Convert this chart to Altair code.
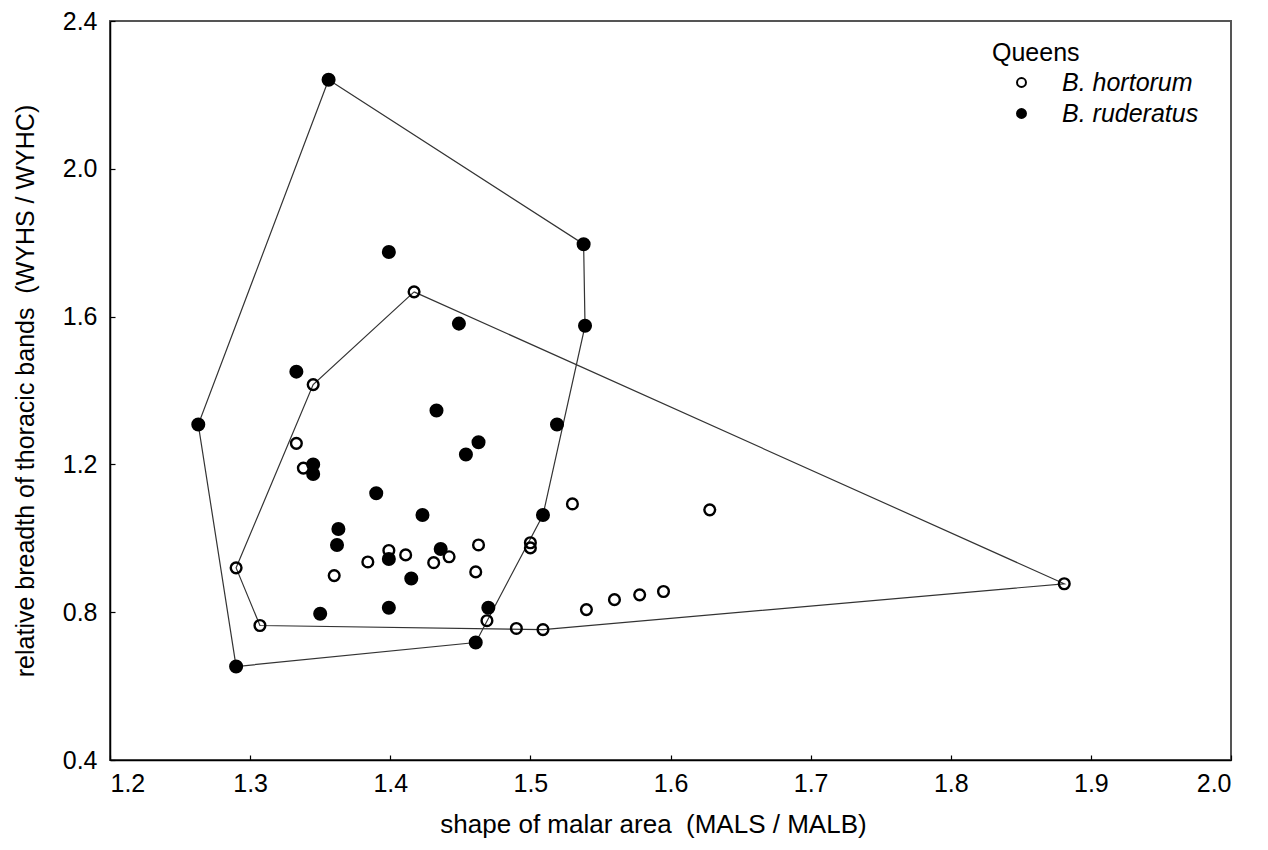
import altair as alt
import pandas as pd

FONT = "Liberation Sans"

species = ["B. hortorum", "B. ruderatus"]

# B. hortorum (open circles)
hort_x = [1.417, 1.345, 1.333, 1.338, 1.290, 1.307, 1.360, 1.384, 1.399, 1.411, 1.431, 1.442, 1.463,
          1.461, 1.500, 1.500, 1.530, 1.628, 1.469, 1.490, 1.509, 1.540, 1.560, 1.578, 1.595, 1.881]
hort_y = [1.667, 1.416, 1.257, 1.190, 0.920, 0.764, 0.899, 0.936, 0.967, 0.955, 0.934, 0.950, 0.982,
          0.909, 0.988, 0.974, 1.093, 1.077, 0.777, 0.756, 0.753, 0.807, 0.834, 0.847, 0.856, 0.877]
hort_hull = [0, 25, 20, 5, 4, 1, 0]

# B. ruderatus (filled circles)
rud_x = [1.356, 1.399, 1.538, 1.539, 1.449, 1.333, 1.263, 1.433, 1.519, 1.463, 1.454, 1.345, 1.345,
         1.390, 1.509, 1.423, 1.363, 1.362, 1.399, 1.415, 1.436, 1.350, 1.399, 1.470, 1.461, 1.290]
rud_y = [2.241, 1.775, 1.796, 1.575, 1.581, 1.451, 1.308, 1.346, 1.308, 1.260, 1.227, 1.200, 1.174,
         1.122, 1.063, 1.063, 1.025, 0.982, 0.944, 0.891, 0.971, 0.796, 0.812, 0.812, 0.718, 0.653]
rud_hull = [0, 2, 3, 14, 24, 25, 6, 0]

x_ticks = [1.2, 1.3, 1.4, 1.5, 1.6, 1.7, 1.8, 1.9, 2.0]
y_ticks = [0.4, 0.8, 1.2, 1.6, 2.0, 2.4]

x_title = "shape of malar area \u00a0(MALS / MALB)"
y_title = "relative breadth of thoracic bands \u00a0(WYHS / WYHC)"

rows, hull_rows = [], []
for sp, xs, ys, hull in [(species[0], hort_x, hort_y, hort_hull),
                         (species[1], rud_x, rud_y, rud_hull)]:
    for x, y in zip(xs, ys):
        rows.append({"species": sp, "x": x, "y": y})
    for k, i in enumerate(hull):
        hull_rows.append({"species": sp, "x": xs[i], "y": ys[i], "order": k})
pts = pd.DataFrame(rows)
hulls = pd.DataFrame(hull_rows)

W, H = 1121, 739

xs = alt.Scale(domain=[1.2, 2.0], nice=False, zero=False)
ys = alt.Scale(domain=[0.4, 2.4], nice=False, zero=False)

x_axis = alt.Axis(values=x_ticks, format=".1f", tickSize=0, labelPadding=11, labelFontSize=25,
                  labelFont=FONT, title=x_title, titleFontSize=26, titleFont=FONT,
                  titleFontWeight="normal", titlePadding=15, titleX=543, domainColor="black",
                  domainWidth=1.5, labelColor="black", titleColor="black", grid=False)
y_axis = alt.Axis(values=y_ticks, format=".1f", tickSize=0, labelPadding=13, labelFontSize=25,
                  labelFont=FONT, title=y_title, titleFontSize=25, titleFont=FONT,
                  titleFontWeight="normal", titlePadding=24, domainColor="black", domainWidth=1.5,
                  labelColor="black", titleColor="black", grid=False)

legend = alt.Legend(title="Queens", orient="none", legendX=882, legendY=20,
                    symbolType="circle", symbolSize=80, symbolStrokeColor="black",
                    symbolStrokeWidth=2, symbolOffset=17, labelOffset=28,
                    labelFontSize=25, labelFont=FONT, labelFontStyle="italic",
                    labelColor="black", titleFontSize=25, titleFont=FONT,
                    titleFontWeight="normal", titleColor="black", titlePadding=4,
                    rowPadding=5, padding=0, labelLimit=400)
fill_enc = alt.Fill("species:N",
                    scale=alt.Scale(domain=species, range=["transparent", "black"]),
                    legend=legend)

lines = alt.Chart(hulls).mark_line(color="#333333", strokeWidth=1.2).encode(
    x=alt.X("x:Q", scale=xs, axis=x_axis),
    y=alt.Y("y:Q", scale=ys, axis=y_axis),
    detail="species:N",
    order="order:Q",
)

open_pts = alt.Chart(pts).transform_filter(
    alt.datum.species == species[0]
).mark_point(filled=True, stroke="black", strokeWidth=2.4, size=115, opacity=1,
             shape="circle").encode(
    x=alt.X("x:Q", scale=xs, axis=x_axis),
    y=alt.Y("y:Q", scale=ys, axis=y_axis),
    fill=fill_enc,
)

filled_pts = alt.Chart(pts).transform_filter(
    alt.datum.species == species[1]
).mark_point(filled=True, stroke="black", strokeWidth=2, size=145, opacity=1,
             shape="circle").encode(
    x=alt.X("x:Q", scale=xs, axis=x_axis),
    y=alt.Y("y:Q", scale=ys, axis=y_axis),
    fill=fill_enc,
)

main = alt.layer(lines, open_pts, filled_pts)

# second (invisible) layer carrying inward-pointing tick marks
tick_x_axis = alt.Axis(orient="top", offset=-H, values=x_ticks, labels=False, title=None,
                       domain=False, tickSize=5, tickColor="black", tickWidth=1.2, grid=False)
tick_y_axis = alt.Axis(orient="right", offset=-W, values=y_ticks, labels=False, title=None,
                       domain=False, tickSize=5, tickColor="black", tickWidth=1.2, grid=False)
ticks = alt.Chart(pts).mark_point(opacity=0).encode(
    x=alt.X("x:Q", scale=alt.Scale(domain=[1.2, 2.0], nice=False, zero=False), axis=tick_x_axis),
    y=alt.Y("y:Q", scale=alt.Scale(domain=[0.4, 2.4], nice=False, zero=False), axis=tick_y_axis),
)

chart = alt.layer(main, ticks).resolve_scale(x="independent", y="independent").properties(
    width=W, height=H,
    autosize=alt.AutoSizeParams(type="none"),
    padding={"left": 102, "top": 13, "right": 29, "bottom": 90},
    background="white",
).configure_view(stroke="#555555", strokeWidth=2)

chart.save("out.html", embed_options={"renderer": "svg", "actions": False})
